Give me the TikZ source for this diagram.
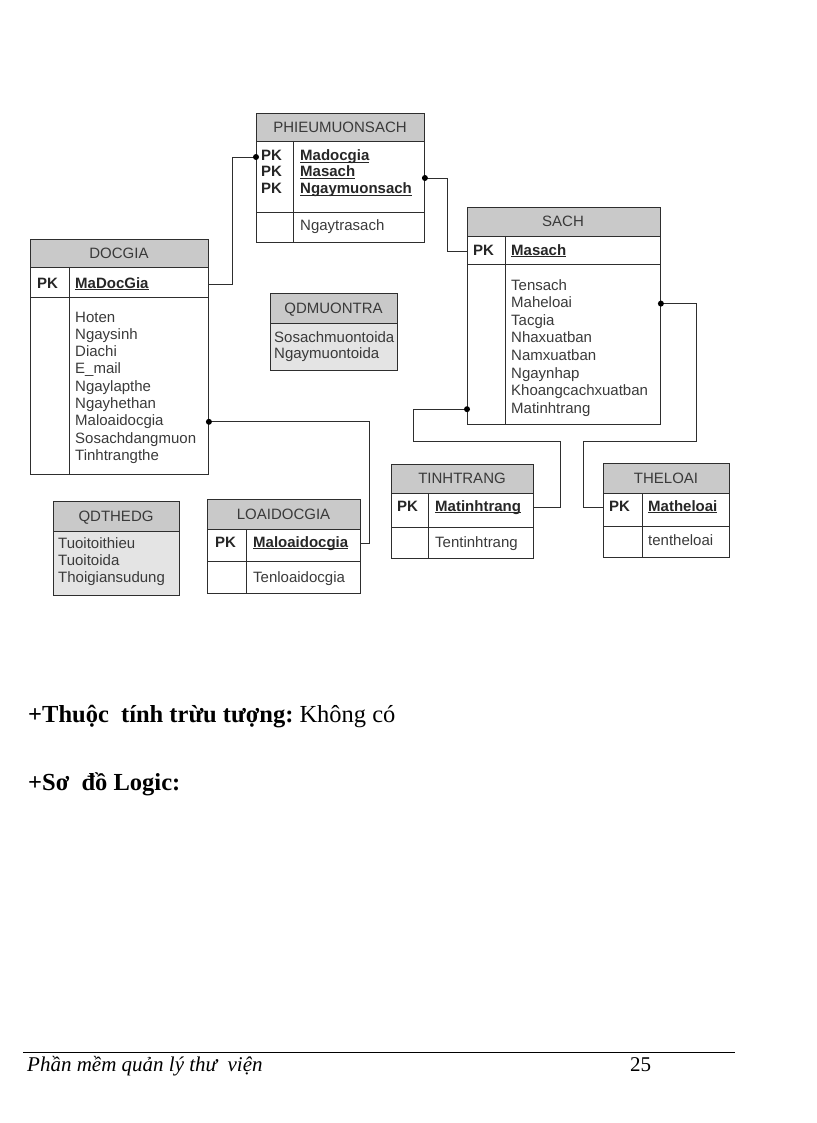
\documentclass[tikz,border=0pt]{standalone}
\usepackage{fontspec}
\setmainfont{Liberation Serif}
\setsansfont{Liberation Sans}
\usetikzlibrary{calc}
\definecolor{linec}{HTML}{2E2E2E}
\definecolor{hdrc}{HTML}{C9C9C9}
\definecolor{qdc}{HTML}{E4E4E4}
\definecolor{txtc}{HTML}{3A3A3A}
\newcommand\keyul[1]{\setbox0\hbox{#1}\rlap{\rule[-2.2pt]{\wd0}{0.9pt}}\box0}
\newcommand\dfont{\sffamily\fontsize{15}{17}\selectfont}
\begin{document}
\begin{tikzpicture}[x=1pt,y=-1pt,
  tbl/.style={draw=linec, line width=0.9pt, inner sep=0pt, anchor=north west},
  sep/.style={draw=linec, line width=0.9pt},
  hdr/.style={fill=hdrc},
  title/.style={font=\dfont, text=txtc, inner sep=0pt, text height=11pt, text depth=0pt, anchor=center},
  attr/.style={font=\dfont, text=txtc, inner sep=0pt, text height=11pt, text depth=3pt, anchor=west},
  key/.style={attr, font=\dfont\bfseries, text=black!85},
  conn/.style={draw=linec, line width=0.9pt},
  dot/.style={fill=black},
]
\useasboundingbox (0,0) rectangle (816,1123);

% ---------- PHIEUMUONSACH ----------
\fill[hdr] (256,113) rectangle (424,141);
\node[tbl, minimum width=168pt, minimum height=129pt] (pms) at (256,113) {};
\draw[sep] (256,141) -- (424,141);
\draw[sep] (256,212) -- (424,212);
\draw[sep] (293,141) -- (293,242);
\node[title] (pmst) at (340,127) {PHIEUMUONSACH};
\node[key] (pmspk1) at (261,157) {PK};
\node[key] (pmspk2) at (261,173) {PK};
\node[key] (pmspk3) at (261,190) {PK};
\node[key] (pmsmdg) at (300,157) {\keyul{Madocgia}};
\node[key] (pmsms) at (300,173) {\keyul{Masach}};
\node[key] (pmsnm) at (300,190) {\keyul{Ngaymuonsach}};
\node[attr] (pmsnt) at (300,226) {Ngaytrasach};

% ---------- DOCGIA ----------
\fill[hdr] (30,239) rectangle (208,267);
\node[tbl, minimum width=178pt, minimum height=235pt] (dg) at (30,239) {};
\draw[sep] (30,267) -- (208,267);
\draw[sep] (30,297) -- (208,297);
\draw[sep] (69,267) -- (69,474);
\node[title] (dgt) at (119,253) {DOCGIA};
\node[key] (dgpk) at (37,284) {PK};
\node[key] (dgmdg) at (75,284) {\keyul{MaDocGia}};
\foreach \t [count=\i from 0] in {Hoten,Ngaysinh,Diachi,E\_mail,Ngaylapthe,Ngayhethan,Maloaidocgia,Sosachdangmuon,Tinhtrangthe}
  \node[attr] (dga\i) at (75,318+17.3*\i) {\t};

% ---------- SACH ----------
\fill[hdr] (467,207) rectangle (660,236);
\node[tbl, minimum width=193pt, minimum height=217pt] (sach) at (467,207) {};
\draw[sep] (467,236) -- (660,236);
\draw[sep] (467,264) -- (660,264);
\draw[sep] (505,236) -- (505,424);
\node[title] (sacht) at (563,221) {SACH};
\node[key] (sachpk) at (473,251) {PK};
\node[key] (sachms) at (511,251) {\keyul{Masach}};
\foreach \t [count=\i from 0] in {Tensach,Maheloai,Tacgia,Nhaxuatban,Namxuatban,Ngaynhap,Khoangcachxuatban,Matinhtrang}
  \node[attr] (sacha\i) at (511,286+17.6*\i) {\t};

% ---------- QDMUONTRA ----------
\fill[fill=qdc] (270,293) rectangle (397,370);
\fill[hdr] (270,293) rectangle (397,323);
\node[tbl, minimum width=127pt, minimum height=77pt] (qdm) at (270,293) {};
\draw[sep] (270,323) -- (397,323);
\node[title] (qdmt) at (333.5,308) {QDMUONTRA};
\node[attr] (qdm1) at (274,338) {Sosachmuontoida};
\node[attr] (qdm2) at (274,354) {Ngaymuontoida};

% ---------- QDTHEDG ----------
\fill[fill=qdc] (53,501) rectangle (179,595);
\fill[hdr] (53,501) rectangle (179,531);
\node[tbl, minimum width=126pt, minimum height=94pt] (qdt) at (53,501) {};
\draw[sep] (53,531) -- (179,531);
\node[title] (qdtt) at (116,516) {QDTHEDG};
\node[attr] (qdt1) at (58,544) {Tuoitoithieu};
\node[attr] (qdt2) at (58,561) {Tuoitoida};
\node[attr] (qdt3) at (58,578) {Thoigiansudung};

% ---------- LOAIDOCGIA ----------
\fill[hdr] (207,499) rectangle (360,529);
\node[tbl, minimum width=153pt, minimum height=94pt] (ldg) at (207,499) {};
\draw[sep] (207,529) -- (360,529);
\draw[sep] (207,561) -- (360,561);
\draw[sep] (246,529) -- (246,593);
\node[title] (ldgt) at (283.5,514) {LOAIDOCGIA};
\node[key] (ldgpk) at (215,543) {PK};
\node[key] (ldgml) at (253,543) {\keyul{Maloaidocgia}};
\node[attr] (ldgtl) at (253,578) {Tenloaidocgia};

% ---------- TINHTRANG ----------
\fill[hdr] (391,464) rectangle (533,493);
\node[tbl, minimum width=142pt, minimum height=94pt] (tt) at (391,464) {};
\draw[sep] (391,493) -- (533,493);
\draw[sep] (391,527) -- (533,527);
\draw[sep] (428,493) -- (428,558);
\node[title] (ttt) at (462,478) {TINHTRANG};
\node[key] (ttpk) at (397,507) {PK};
\node[key] (ttmt) at (435,507) {\keyul{Matinhtrang}};
\node[attr] (tttt) at (435,543) {Tentinhtrang};

% ---------- THELOAI ----------
\fill[hdr] (603,463) rectangle (729,493);
\node[tbl, minimum width=126pt, minimum height=94pt] (tl) at (603,463) {};
\draw[sep] (603,493) -- (729,493);
\draw[sep] (603,526) -- (729,526);
\draw[sep] (642,493) -- (642,557);
\node[title] (tlt) at (666,478) {THELOAI};
\node[key] (tlpk) at (609,507) {PK};
\node[key] (tlmt) at (648,507) {\keyul{Matheloai}};
\node[attr] (tltt) at (648,541) {tentheloai};

% ---------- connectors ----------
\draw[conn] (dg.east |- dgmdg) -- ++(24,0) |- (pms.west |- pmsmdg);
\fill[dot] (pms.west |- pmsmdg) circle (3pt);

\draw[conn] (pms.east |- 0,178) -- ++(23,0) |- (sach.west |- sachms);
\fill[dot] (pms.east |- 0,178) circle (3pt);

\draw[conn] (dg.east |- dga6) -- ++(161,0) |- (ldg.east |- ldgml);
\fill[dot] (dg.east |- dga6) circle (3pt);

\draw[conn] (sach.west |- sacha7) -- ++(-54,0) -- ++(0,32) -- ++(147,0) |- (tt.east |- ttmt);
\fill[dot] (sach.west |- sacha7) circle (3pt);

\draw[conn] (sach.east |- sacha1) -- ++(36,0) -- ++(0,138) -- ++(-113,0) |- (tl.west |- tlmt);
\fill[dot] (sach.east |- sacha1) circle (3pt);

% ---------- text ----------
\node[anchor=base west, inner sep=0pt, font=\fontsize{24.5}{28}\selectfont] (t1) at (28,722) {\textbf{+Thuộc\ \ tính trừu tượng:}\ Không có};
\node[anchor=base west, inner sep=0pt, font=\fontsize{24.5}{28}\selectfont\bfseries] (t2) at (28,790) {+Sơ\ \ đồ Logic:};

\draw[line width=1pt] (23,1052) -- (735,1052);
\node[anchor=base west, inner sep=0pt, font=\fontsize{21}{24}\selectfont\itshape] (foot) at (27,1071) {Phần mềm quản lý thư\ \ viện};
\node[anchor=base west, inner sep=0pt, font=\fontsize{21}{24}\selectfont] (pg) at (630,1071) {25};
\end{tikzpicture}
\end{document}
